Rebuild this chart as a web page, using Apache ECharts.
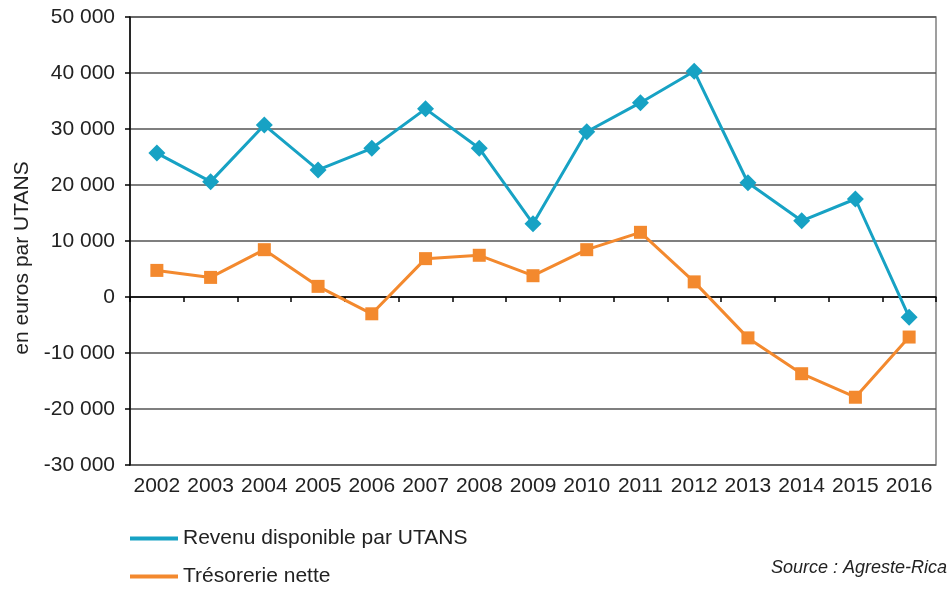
<!DOCTYPE html>
<html><head><meta charset="utf-8">
<script src="https://cdn.jsdelivr.net/npm/echarts@6/dist/echarts.min.js"></script>
<style>html,body{margin:0;padding:0;background:#fff}#c{width:952px;height:590px}</style>
</head><body><div id="c"></div>
<script>
const years = ['2002','2003','2004','2005','2006','2007','2008','2009','2010','2011','2012','2013','2014','2015','2016'];
const revenu = [25700, 20600, 30700, 22700, 26550, 33600, 26550, 13100, 29500, 34700, 40300, 20400, 13600, 17500, -3600];
const tresorerie = [4750, 3500, 8450, 1900, -3000, 6850, 7450, 3800, 8450, 11550, 2700, -7300, -13700, -17900, -7150];
const yTicks = { min: -30000, max: 50000, interval: 10000 };
const seriesNames = ['Revenu disponible par UTANS', 'Trésorerie nette'];
const blue = '#17a2c4', orange = '#f3892e';
const FONT = 'Liberation Sans';
function fmt(v){ const s = Math.abs(v).toString().replace(/\B(?=(\d{3})+(?!\d))/g,' '); return (v<0?'-':'')+s; }
const chart = echarts.init(document.getElementById('c'), null, {renderer:'canvas'});
const legendBase = {orient:'horizontal',left:130,padding:0,itemWidth:48,itemHeight:4,itemGap:5,icon:'rect',
    textStyle:{fontFamily:FONT,fontSize:21,color:'#222',padding:[0,0,0,0]}};
chart.setOption({
  animation:false,
  textStyle:{fontFamily:FONT},
  grid:{left:130,right:16,top:17,bottom:125,show:true,borderColor:'#808080',borderWidth:1.5,containLabel:false},
  legend:[
    Object.assign({},legendBase,{top:528,data:[seriesNames[0]]}),
    Object.assign({},legendBase,{top:566,data:[seriesNames[1]]})
  ],
  xAxis:[
    {type:'category',data:years,position:'bottom',boundaryGap:true,
     axisLine:{show:false,onZero:false},axisTick:{show:false},
     axisLabel:{fontSize:21,color:'#222',margin:11,interval:0,fontFamily:FONT}},
    {type:'category',data:years,position:'top',boundaryGap:true,
     axisLine:{show:true,onZero:true,lineStyle:{color:'#000',width:1.5}},
     axisTick:{show:true,inside:true,length:5,lineStyle:{color:'#000',width:1.5}},
     axisLabel:{show:false},splitLine:{show:false}}
  ],
  yAxis:{type:'value',min:yTicks.min,max:yTicks.max,interval:yTicks.interval,
    axisLine:{show:true,onZero:false,lineStyle:{color:'#000',width:1.5}},
    axisTick:{show:true,length:5,lineStyle:{color:'#000',width:1.5}},
    axisLabel:{fontSize:21,color:'#222',margin:15,formatter:fmt,fontFamily:FONT},
    splitLine:{lineStyle:{color:'#555',width:1.5}}},
  graphic:[
    {type:'text',x:22,y:258,rotation:Math.PI/2,
     style:{text:'en euros par UTANS',fontFamily:FONT,fontSize:21,fill:'#222',align:'center',verticalAlign:'middle'}},
    {type:'text',right:5,top:559,style:{text:'Source : Agreste-Rica',fontFamily:FONT,fontSize:18,fontStyle:'italic',fill:'#222'}}
  ],
  series:[
    {name:seriesNames[0],type:'line',data:revenu,xAxisIndex:0,symbol:'diamond',symbolSize:17,
     lineStyle:{color:blue,width:3},itemStyle:{color:blue},z:3},
    {name:seriesNames[1],type:'line',data:tresorerie,xAxisIndex:0,symbol:'rect',symbolSize:13,
     lineStyle:{color:orange,width:3},itemStyle:{color:orange},z:2}
  ]
});
</script></body></html>
